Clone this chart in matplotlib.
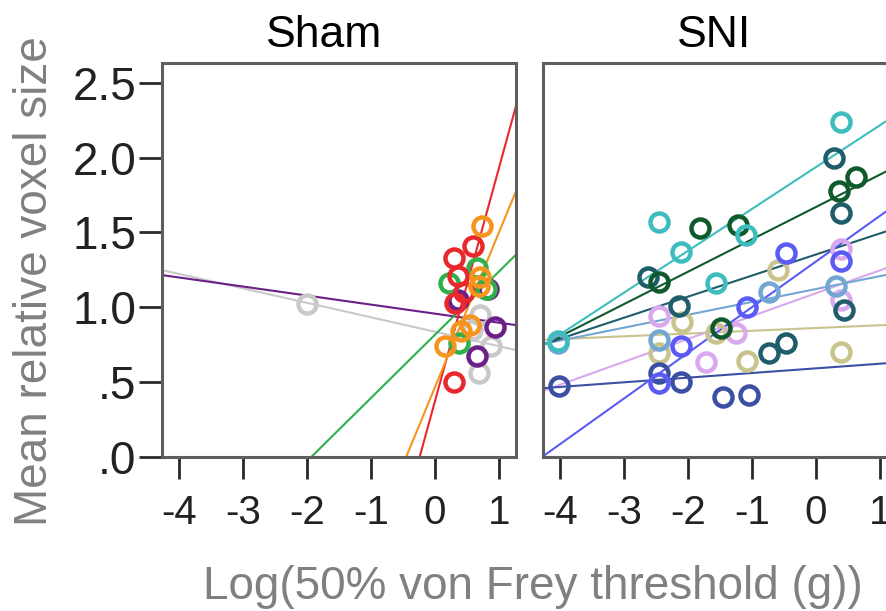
import matplotlib
matplotlib.use("Agg")
import matplotlib.pyplot as plt
from matplotlib import font_manager

plt.rcParams['font.family'] = ['Liberation Sans', 'DejaVu Sans']

# ---------------- data ----------------
# Sham group: per-animal points and fitted regression lines
sham_names = ["gray", "purple", "green", "red", "orange"]
sham_colors = ["#c9c9c9", "#6b1f87", "#2fb04a", "#e8282d", "#f7941e"]
sham_x = [
    [-2.0, 0.68, 0.88, 0.70, 0.58],
    [0.94, 0.83, 0.65, 0.36],
    [0.21, 0.66, 0.38, 0.80],
    [0.29, 0.60, 0.36, 0.31, 0.29, 0.45],
    [0.73, 0.68, 0.70, 0.55, 0.16, 0.40],
]
sham_y = [
    [1.02, 0.56, 0.74, 0.95, 0.85],
    [0.87, 1.12, 0.67, 1.05],
    [1.16, 1.26, 0.76, 1.12],
    [1.33, 1.41, 1.21, 1.03, 0.50, 1.10],
    [1.54, 1.14, 1.20, 0.88, 0.74, 0.84],
]
sham_intercept = [0.835, 0.956, 0.816, 0.374, 0.466]
sham_slope = [-0.0967, -0.0605, 0.423, 1.56, 1.036]

# SNI group
sni_names = ["khaki", "lavender", "steelblue", "darkblue", "teal", "blueviolet", "darkgreen", "cyan"]
sni_colors = ["#c9c48e", "#d9a8ef", "#72a6d3", "#3b50a3", "#1f5d6b", "#5a5af5", "#0f5a2c", "#3dbdbd"]
sni_x = [
    [-0.60, 0.39, -1.07, -2.45, -2.09, -1.56],
    [0.39, 0.39, -1.72, -1.25, -2.45],
    [-0.73, 0.31, -2.45, -4.04],
    [-4.01, -2.45, -2.11, -1.46, -1.04],
    [0.29, 0.39, 0.44, -2.63, -2.14, -0.73, -0.47],
    [-0.47, 0.40, -1.07, -2.11, -2.45],
    [-1.82, -1.22, -2.45, 0.36, 0.62, -1.48],
    [0.39, -2.45, -2.11, -1.56, -1.09, -4.04],
]
sni_y = [
    [1.25, 0.70, 0.64, 0.69, 0.90, 0.83],
    [1.39, 1.05, 0.63, 0.83, 0.94],
    [1.10, 1.14, 0.78, 0.76],
    [0.47, 0.56, 0.50, 0.40, 0.41],
    [2.00, 1.63, 0.98, 1.20, 1.01, 0.69, 0.76],
    [1.36, 1.31, 1.00, 0.74, 0.49],
    [1.53, 1.55, 1.17, 1.78, 1.87, 0.86],
    [2.24, 1.57, 1.37, 1.16, 1.48, 0.77],
]
sni_intercept = [0.86, 1.093, 1.121, 0.590, 1.352, 1.305, 1.670, 1.937]
sni_slope = [0.0185, 0.153, 0.0862, 0.0311, 0.141, 0.3055, 0.2166, 0.280]

panel_titles = ["Sham", "SNI"]
xticks = [-4, -3, -2, -1, 0, 1]
xtick_labels = ["-4", "-3", "-2", "-1", "0", "1"]
yticks = [0.0, 0.5, 1.0, 1.5, 2.0, 2.5]
ytick_labels = [".0", ".5", "1.0", "1.5", "2.0", "2.5"]
xlabel = "Log(50% von Frey threshold (g))"
ylabel = "Mean relative voxel size"

# narrow font for the y tick labels if one is available
narrow = None
for f in font_manager.fontManager.ttflist:
    if f.name == "Liberation Sans Narrow":
        narrow = f.name
        break

# ---------------- figure ----------------
W, H = 886, 611
fig = plt.figure(figsize=(W / 100, H / 100), dpi=100)

ax_w = 354 / W
ax_h = (456.5 - 63) / H
ax_b = (H - 456.5) / H
ax1 = fig.add_axes([161.7 / W, ax_b, ax_w, ax_h])
ax2 = fig.add_axes([542.5 / W, ax_b, ax_w, ax_h])

XLIM = (-4.275, 1.26)
YLIM = (0, 2.634)

ms = 13
mew = 3.2
lw = 1.5


def draw(ax, xs, ys, ints, slopes, colors):
    for x, y, b, m, c in zip(xs, ys, ints, slopes, colors):
        ax.axline((0, b), slope=m, color=c, lw=lw, zorder=2)
        ax.plot(x, y, linestyle="none", marker="o", ms=ms, mfc="none",
                mec=c, mew=mew, zorder=3)


draw(ax1, sham_x, sham_y, sham_intercept, sham_slope, sham_colors)
draw(ax2, sni_x, sni_y, sni_intercept, sni_slope, sni_colors)

title_x = [0.458, 0.486]
for i, ax in enumerate([ax1, ax2]):
    ax.set_xlim(*XLIM)
    ax.set_ylim(*YLIM)
    for s in ax.spines.values():
        s.set_color("#5e5e5e")
        s.set_linewidth(2.2)
    ax.set_xticks(xticks)
    ax.set_xticklabels(xtick_labels)
    ax.tick_params(axis="x", direction="out", length=16, width=2.0,
                   color="#2a2a2a", labelsize=29, pad=11, labelcolor="#222222")
    ax.set_title(panel_titles[i], fontsize=32, pad=11.5, x=title_x[i], color="black")

ax1.set_yticks(yticks)
ax1.set_yticklabels(ytick_labels)
ax1.tick_params(axis="y", direction="out", length=16.5, width=2.0,
                color="#2a2a2a", pad=2, labelcolor="#222222")
for t in ax1.get_yticklabels():
    if narrow:
        t.set_fontfamily([narrow, "Liberation Sans"])
        t.set_fontsize(34)
    else:
        t.set_fontsize(33)
ax2.set_yticks([])

fig.text(35 / W, (H - 281) / H, ylabel, rotation=90, ha="center", va="center",
         fontsize=33, color="#808080")
fig.text(533 / W, 12 / H, xlabel, ha="center", va="baseline",
         fontsize=33, color="#808080")

fig.savefig("out.png", dpi=100)
